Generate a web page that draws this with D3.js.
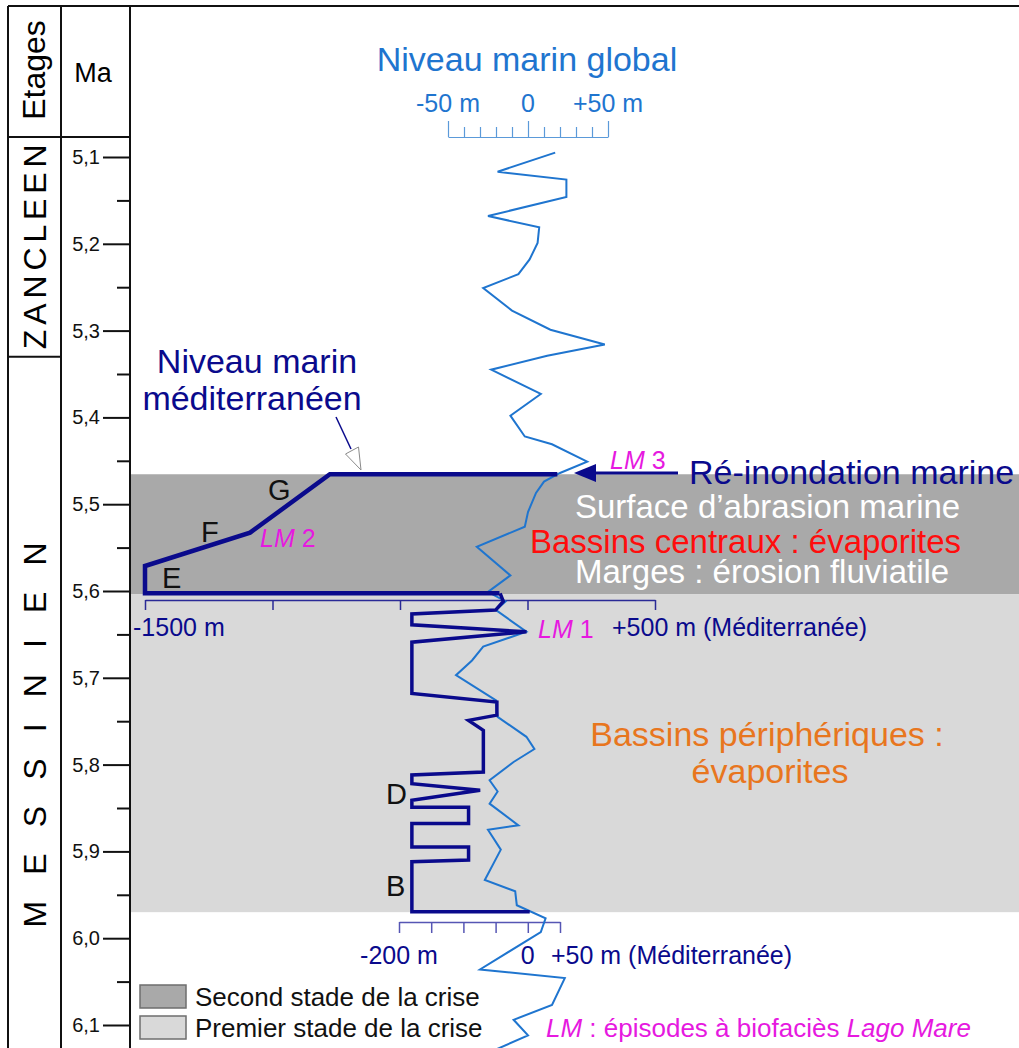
<!DOCTYPE html>
<html>
<head>
<meta charset="utf-8">
<script src="https://cdn.jsdelivr.net/npm/d3@7"></script>
<style>
  body { margin: 0; background: white; }
  svg text { font-family: "Liberation Sans", Arial, sans-serif; }
</style>
</head>
<body>
<svg id="chart" width="1019" height="1048"></svg>
<script>
// Données

// axe des âges (Ma)
const ageTicks = [5.1, 5.2, 5.3, 5.4, 5.5, 5.6, 5.7, 5.8, 5.9, 6.0, 6.1]
const ageMinor = [5.15, 5.25, 5.35, 5.45, 5.55, 5.65, 5.75, 5.85, 5.95, 6.05]

// étages
const stageNames = ['ZANCLEEN', 'MESSINIEN']
const stageLimit = 5.33

// stades de la crise
const crisisLabels = ['Second stade de la crise', 'Premier stade de la crise']
const crisisTop = [5.4655, 5.6035]
const crisisBottom = [5.6035, 5.97]
const crisisColors = ['#a9a9a9', '#d9d9d9']

// niveau marin global (m)
const globalTicks = [-50, -40, -30, -20, -10, 0, 10, 20, 30, 40, 50]
const globalTickLabels = ['-50 m', '0', '+50 m']
const globalAge = [5.095, 5.117, 5.126, 5.146, 5.168, 5.181, 5.199, 5.218, 5.235, 5.251,
  5.277, 5.299, 5.316, 5.329, 5.345, 5.373, 5.398, 5.422, 5.431, 5.451,
  5.464, 5.474, 5.487, 5.509, 5.526, 5.549, 5.582, 5.601, 5.612, 5.622,
  5.647, 5.664, 5.680, 5.697, 5.726, 5.745, 5.768, 5.782, 5.797, 5.818,
  5.831, 5.845, 5.870, 5.875, 5.898, 5.933, 5.946, 5.962, 5.977, 5.993,
  6.036, 6.046, 6.077, 6.094, 6.112, 6.129]
const globalLevel = [17, -19, 24, 24, -25, 7, 6, 1, -6, -28,
  -10, 14, 48, 12, -23, 8, -11, -2, 15, 37,
  20, 10, 5, 0, -2, -32, -11, -25, -14, -20,
  -1, -28, -35, -45, -20, -19, -1, 4, -9, -24,
  -19, -24, -6, -25, -17, -27, -8, -7, 11, 8,
  -30, 23, 15, -9, 0, -21]

// niveau méditerranéen, second stade (échelle -1500 / +500 m)
const medTicks2 = [-1500, -1000, -500, 0, 500]
const medAge2 = [5.4655, 5.4655, 5.5328, 5.5712, 5.6027, 5.6027]
const medLevel2 = [117, -775, -1088, -1500, -1500, -110]

// niveau méditerranéen, premier stade (échelle -200 / +50 m)
const medTicks1 = [-200, -150, -100, -50, 0, 50]
const medAge1 = [5.6027, 5.612, 5.622, 5.6265, 5.639, 5.647, 5.659, 5.718, 5.728, 5.743,
  5.749, 5.7605, 5.8085, 5.812, 5.822, 5.8295, 5.841, 5.849, 5.849, 5.868,
  5.868, 5.895, 5.895, 5.910, 5.912, 5.9695, 5.9695]
const medLevel1 = [-43, -38, -50, -180, -180, -2, -180, -180, -48, -48,
  -92, -69, -69, -180, -180, -74, -180, -180, -92, -92,
  -180, -180, -92, -92, -180, -180, 3]

// lettres et épisodes Lago Mare
const letterNames = ['G', 'F', 'E', 'D', 'B']
const lmNames = ['3', '2', '1']

const svg = d3.select('#chart')
const width = +svg.attr('width')
const height = +svg.attr('height')

const navy = '#0a0a8c'
const blue = '#1f75cf'
const magenta = '#e619e0'

// échelles
const y = d3.scaleLinear().domain([5.1, 6.1]).range([157, 1025])
const xGlob = d3.scaleLinear().domain([-50, 50]).range([448, 608])
const xMed2 = d3.scaleLinear().domain([-1500, 500]).range([145, 655])
const xMed1 = d3.scaleLinear().domain([-200, 50]).range([399, 560])

const axisX = 130

// bandes grises des deux stades
svg.selectAll('rect.band').data(crisisTop)
  .enter().append('rect')
    .attr('class', 'band')
    .attr('x', axisX)
    .attr('y', d => y(d))
    .attr('width', width - axisX)
    .attr('height', (d, i) => y(crisisBottom[i]) - y(d))
    .attr('fill', (d, i) => crisisColors[i])

// cadre
const frame = svg.append('g')
  .attr('stroke', '#111')
  .attr('stroke-width', 2)
frame.append('line').attr('x1', 8).attr('x2', width).attr('y1', 6).attr('y2', 6)
frame.append('line').attr('x1', 8).attr('x2', 8).attr('y1', 6).attr('y2', height)
frame.append('line').attr('x1', 61).attr('x2', 61).attr('y1', 6).attr('y2', height)
frame.append('line').attr('x1', axisX).attr('x2', axisX).attr('y1', 6).attr('y2', height)
frame.append('line').attr('x1', 8).attr('x2', axisX).attr('y1', 137).attr('y2', 137)
frame.append('line').attr('x1', 8).attr('x2', 61).attr('y1', y(stageLimit)).attr('y2', y(stageLimit))

// en-têtes
svg.append('text')
  .attr('transform', 'translate(45, 70) rotate(-90)')
  .attr('text-anchor', 'middle')
  .attr('font-size', 32)
  .text('Etages')

svg.append('text')
  .attr('x', 93).attr('y', 82)
  .attr('text-anchor', 'middle')
  .attr('font-size', 27)
  .text('Ma')

// étages (texte vertical espacé)
const stageMid = [(137 + y(stageLimit)) / 2, 735]
const stageLen = [205, 385]
stageNames.forEach((s, i) => {
  svg.append('text')
    .attr('transform', `translate(46, ${stageMid[i]}) rotate(-90)`)
    .attr('text-anchor', 'middle')
    .attr('font-size', 32)
    .attr('textLength', stageLen[i])
    .attr('lengthAdjust', 'spacing')
    .text(s)
})

// axe des âges
const yAxisG = svg.append('g')
  .attr('transform', `translate(${axisX}, 0)`)
  .call(d3.axisLeft(y).tickValues(ageTicks).tickSize(27).tickPadding(3)
    .tickFormat(d => d3.format('.1f')(d).replace('.', ',')))
yAxisG.select('.domain').remove()
yAxisG.selectAll('.tick line').attr('stroke', '#111').attr('stroke-width', 2)
yAxisG.selectAll('.tick text').attr('font-size', 20).attr('fill', '#111')
  .style('font-family', '"Liberation Sans", Arial, sans-serif')

const yMinorG = svg.append('g')
  .attr('transform', `translate(${axisX}, 0)`)
  .call(d3.axisLeft(y).tickValues(ageMinor).tickSize(13).tickFormat(''))
yMinorG.select('.domain').remove()
yMinorG.selectAll('.tick line').attr('stroke', '#111').attr('stroke-width', 2)

// axe du niveau marin global
const globAxisG = svg.append('g')
  .attr('transform', 'translate(0, 137)')
  .call(d3.axisTop(xGlob).tickValues(globalTicks).tickSizeInner(10).tickSizeOuter(0).tickFormat(''))
globAxisG.select('.domain').attr('stroke', '#5b9ad9').attr('stroke-width', 1.2)
globAxisG.selectAll('.tick line')
  .attr('stroke', '#5b9ad9').attr('stroke-width', 1.2)
  .attr('y2', d => d % 50 === 0 ? -16 : -10)

svg.selectAll('text.glob-lab').data([-50, 0, 50])
  .enter().append('text')
    .attr('class', 'glob-lab')
    .attr('x', d => xGlob(d))
    .attr('y', 112)
    .attr('text-anchor', 'middle')
    .attr('font-size', 25)
    .attr('fill', blue)
    .text((d, i) => globalTickLabels[i])

svg.append('text')
  .attr('x', 527).attr('y', 71)
  .attr('text-anchor', 'middle')
  .attr('font-size', 34)
  .attr('fill', blue)
  .text('Niveau marin global')

// axe méditerranée, second stade
const med2AxisG = svg.append('g')
  .attr('transform', 'translate(0, 600)')
  .call(d3.axisBottom(xMed2).tickValues(medTicks2).tickSizeInner(10).tickSizeOuter(0).tickFormat(''))
med2AxisG.selectAll('.domain, .tick line').attr('stroke', '#2a2a96').attr('stroke-width', 1.5)

svg.append('text')
  .attr('x', xMed2(-1500) - 12).attr('y', 636)
  .attr('font-size', 25).attr('fill', navy)
  .text('-1500 m')
svg.append('text')
  .attr('x', xMed2(500) - 43).attr('y', 636)
  .attr('font-size', 25).attr('fill', navy)
  .text('+500 m (Méditerranée)')

// axe méditerranée, premier stade
const med1AxisG = svg.append('g')
  .attr('transform', 'translate(0, 922)')
  .call(d3.axisBottom(xMed1).tickValues(medTicks1).tickSizeInner(11).tickSizeOuter(0).tickFormat(''))
med1AxisG.selectAll('.domain, .tick line').attr('stroke', '#5656b4').attr('stroke-width', 1.5)

svg.append('text')
  .attr('x', xMed1(-200)).attr('y', 964)
  .attr('text-anchor', 'middle')
  .attr('font-size', 25).attr('fill', navy)
  .text('-200 m')
svg.append('text')
  .attr('x', xMed1(0)).attr('y', 964)
  .attr('text-anchor', 'middle')
  .attr('font-size', 25).attr('fill', navy)
  .text('0')
svg.append('text')
  .attr('x', xMed1(50) - 9).attr('y', 964)
  .attr('font-size', 25).attr('fill', navy)
  .text('+50 m (Méditerranée)')

// courbes
const globalLine = d3.line()
  .x((d, i) => xGlob(globalLevel[i]))
  .y(d => y(d))
svg.append('path')
  .attr('d', globalLine(globalAge))
  .attr('fill', 'none')
  .attr('stroke', blue)
  .attr('stroke-width', 2)

const med2Line = d3.line()
  .x((d, i) => xMed2(medLevel2[i]))
  .y(d => y(d))
const med1Line = d3.line()
  .x((d, i) => xMed1(medLevel1[i]))
  .y(d => y(d))
svg.append('path')
  .attr('d', med2Line(medAge2))
  .attr('fill', 'none')
  .attr('stroke', navy)
  .attr('stroke-width', 4.5)
  .attr('stroke-linejoin', 'miter')
svg.append('path')
  .attr('d', med1Line(medAge1))
  .attr('fill', 'none')
  .attr('stroke', navy)
  .attr('stroke-width', 3.5)
  .attr('stroke-linejoin', 'miter')

// flèche de ré-inondation
svg.append('line')
  .attr('x1', 678).attr('x2', 592)
  .attr('y1', 473).attr('y2', 473)
  .attr('stroke', navy).attr('stroke-width', 3)
svg.append('path')
  .attr('d', 'M574,473 L596,464 L596,482 Z')
  .attr('fill', navy)

svg.append('text')
  .attr('x', 689).attr('y', 484)
  .attr('font-size', 34).attr('fill', navy)
  .text('Ré-inondation marine')

// annotation niveau méditerranéen
svg.append('text')
  .attr('x', 257).attr('y', 373)
  .attr('text-anchor', 'middle')
  .attr('font-size', 34).attr('fill', navy)
  .text('Niveau marin')
svg.append('text')
  .attr('x', 252).attr('y', 410)
  .attr('text-anchor', 'middle')
  .attr('font-size', 34).attr('fill', navy)
  .text('méditerranéen')
svg.append('line')
  .attr('x1', 336).attr('y1', 417)
  .attr('x2', 351).attr('y2', 449)
  .attr('stroke', navy).attr('stroke-width', 1.5)
svg.append('path')
  .attr('d', 'M345.5,454 L358.5,447 L361,470 Z')
  .attr('fill', 'white')
  .attr('stroke', '#8a8a8a')
  .attr('stroke-width', 1)

// textes dans les bandes
svg.append('text')
  .attr('x', 575).attr('y', 518)
  .attr('font-size', 33).attr('fill', 'white')
  .text('Surface d’abrasion marine')
svg.append('text')
  .attr('x', 530).attr('y', 553)
  .attr('font-size', 33).attr('fill', '#ff0d0d')
  .text('Bassins centraux : évaporites')
svg.append('text')
  .attr('x', 575).attr('y', 583)
  .attr('font-size', 33).attr('fill', 'white')
  .text('Marges : érosion fluviatile')

svg.append('text')
  .attr('x', 767).attr('y', 746)
  .attr('text-anchor', 'middle')
  .attr('font-size', 34).attr('fill', '#e8761e')
  .text('Bassins périphériques :')
svg.append('text')
  .attr('x', 770).attr('y', 783)
  .attr('text-anchor', 'middle')
  .attr('font-size', 34).attr('fill', '#e8761e')
  .text('évaporites')

// lettres
const letterX = [268, 201, 162, 386, 386]
const letterY = [500, 542, 588, 804, 896]
svg.selectAll('text.letter').data(letterNames)
  .enter().append('text')
    .attr('class', 'letter')
    .attr('x', (d, i) => letterX[i])
    .attr('y', (d, i) => letterY[i])
    .attr('font-size', 29)
    .attr('fill', '#111')
    .text(d => d)

// épisodes LM
const lmX = [610, 260, 538]
const lmY = [469, 547, 638]
lmNames.forEach((n, i) => {
  const t = svg.append('text')
    .attr('x', lmX[i]).attr('y', lmY[i])
    .attr('font-size', 25).attr('fill', magenta)
  t.append('tspan').attr('font-style', 'italic').text('LM')
  t.append('tspan').text(' ' + n)
})

// légende
const legY = [985, 1016]
svg.selectAll('rect.leg').data(crisisLabels)
  .enter().append('rect')
    .attr('class', 'leg')
    .attr('x', 140)
    .attr('y', (d, i) => legY[i])
    .attr('width', 46)
    .attr('height', 23)
    .attr('fill', (d, i) => crisisColors[i])
    .attr('stroke', '#6e6e6e')
    .attr('stroke-width', 1.5)
svg.selectAll('text.leg').data(crisisLabels)
  .enter().append('text')
    .attr('class', 'leg')
    .attr('x', 195)
    .attr('y', (d, i) => legY[i] + 21)
    .attr('font-size', 26)
    .attr('fill', '#111')
    .text(d => d)

const lmNote = svg.append('text')
  .attr('x', 546).attr('y', 1037)
  .attr('font-size', 26).attr('fill', magenta)
lmNote.append('tspan').attr('font-style', 'italic').text('LM')
lmNote.append('tspan').text(' : épisodes à biofaciès ')
lmNote.append('tspan').attr('font-style', 'italic').text('Lago Mare')
</script>
</body>
</html>
